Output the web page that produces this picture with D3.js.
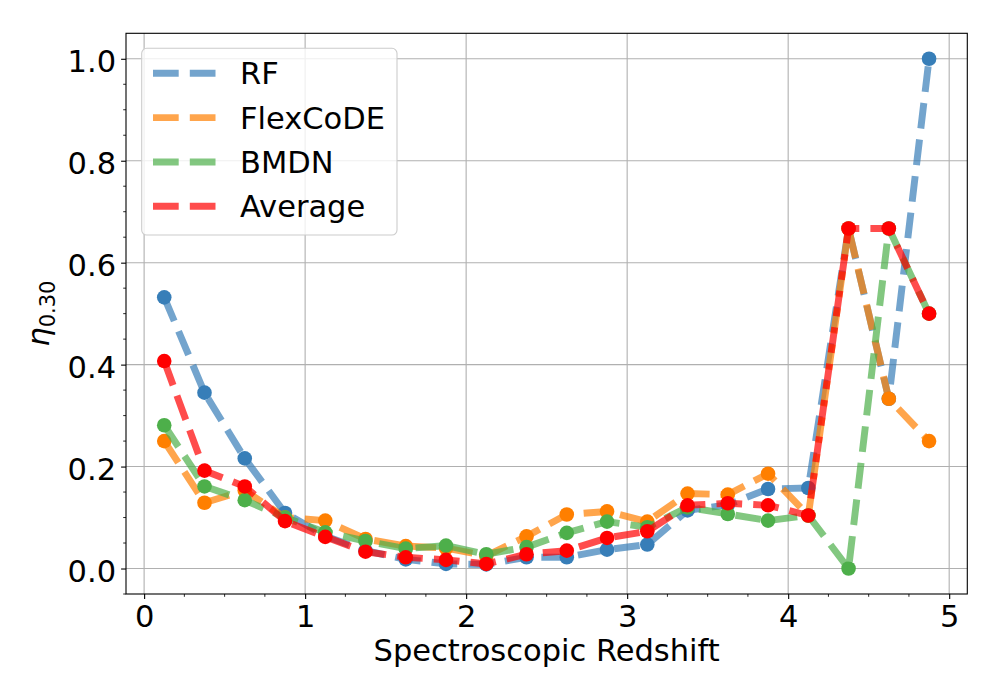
<!DOCTYPE html>
<html>
<head>
<meta charset="utf-8">
<script src="https://cdn.jsdelivr.net/npm/d3@7"></script>
<style>
  body { margin: 0; background: #fff; }
  text { font-family: "DejaVu Sans", sans-serif; fill: #000; }
</style>
</head>
<body>
<svg id="chart" width="1000" height="700"></svg>
<script>
// ---- data ----
const redshiftBins = [0.125, 0.375, 0.625, 0.875, 1.125, 1.375, 1.625, 1.875, 2.125, 2.375,
                      2.625, 2.875, 3.125, 3.375, 3.625, 3.875, 4.125, 4.375, 4.625, 4.875];
const rfValues = [0.532, 0.345, 0.216, 0.109, 0.064, 0.035, 0.018, 0.009, 0.008, 0.022,
                  0.022, 0.037, 0.047, 0.114, 0.125, 0.156, 0.158, 0.667, 0.333, 1.0];
const flexcodeValues = [0.250, 0.129, 0.153, 0.100, 0.094, 0.058, 0.044, 0.040, 0.025, 0.063,
                        0.106, 0.112, 0.092, 0.147, 0.145, 0.186, 0.104, 0.667, 0.333, 0.250];
const bmdnValues = [0.281, 0.161, 0.134, 0.100, 0.071, 0.054, 0.039, 0.045, 0.028, 0.042,
                    0.070, 0.092, 0.081, 0.120, 0.107, 0.094, 0.104, 0.000, 0.667, 0.500];
const averageValues = [0.407, 0.192, 0.161, 0.093, 0.062, 0.033, 0.022, 0.017, 0.009, 0.028,
                       0.035, 0.060, 0.073, 0.124, 0.128, 0.124, 0.104, 0.667, 0.667, 0.500];
const seriesNames = ["RF", "FlexCoDE", "BMDN", "Average"];
const seriesColors = ["#377eb8", "#ff7f00", "#4daf4a", "#ff0000"];
const xTicks = [0, 1, 2, 3, 4, 5];
const yTicks = [0.0, 0.2, 0.4, 0.6, 0.8, 1.0];
const xLabel = "Spectroscopic Redshift";

const seriesValues = [rfValues, flexcodeValues, bmdnValues, averageValues];

// ---- layout ----
const svg = d3.select("#chart");
const L = 126, R = 967.3, T = 33.3, B = 594;
const x = d3.scaleLinear().domain([-0.1125, 5.1125]).range([L, R]);
const y = d3.scaleLinear().domain([-0.05, 1.05]).range([B, T]);
const fs = 30.5;

// grid
const grid = svg.append("g");
grid.selectAll("line.gx").data(xTicks).enter().append("line")
  .attr("x1", d => x(d)).attr("x2", d => x(d)).attr("y1", T).attr("y2", B)
  .attr("stroke", "#b0b0b0").attr("stroke-width", 1.1);
grid.selectAll("line.gy").data(yTicks).enter().append("line")
  .attr("y1", d => y(d)).attr("y2", d => y(d)).attr("x1", L).attr("x2", R)
  .attr("stroke", "#b0b0b0").attr("stroke-width", 1.1);

// axes
const xAxis = d3.axisBottom(x).tickValues(xTicks).tickFormat(d3.format("d"))
  .tickSize(4.9).tickPadding(6);
const gx = svg.append("g").attr("transform", `translate(0,${B})`).call(xAxis);
gx.select(".domain").remove();
gx.selectAll("text").style("font-size", fs + "px").style("font-family", "DejaVu Sans");
gx.selectAll("line").attr("stroke-width", 1.1);

const xMinor = d3.range(0, 21).map(i => i * 0.25).filter(v => v % 1 !== 0);
svg.append("g").selectAll("line").data(xMinor).enter().append("line")
  .attr("x1", d => x(d)).attr("x2", d => x(d)).attr("y1", B).attr("y2", B + 2.8)
  .attr("stroke", "#000").attr("stroke-width", 0.85);

const yAxis = d3.axisLeft(y).tickValues(yTicks).tickFormat(d3.format(".1f"))
  .tickSize(4.9).tickPadding(5);
const gy = svg.append("g").attr("transform", `translate(${L},0)`).call(yAxis);
gy.select(".domain").remove();
gy.selectAll("text").style("font-size", fs + "px").style("font-family", "DejaVu Sans").attr("dy", "0.41em");
gy.selectAll("line").attr("stroke-width", 1.1);

const yMinor = d3.range(-1, 21).map(i => i * 0.05).filter(v => Math.abs(v * 5 - Math.round(v * 5)) > 1e-6);
svg.append("g").selectAll("line").data(yMinor).enter().append("line")
  .attr("y1", d => y(d)).attr("y2", d => y(d)).attr("x1", L).attr("x2", L - 2.8)
  .attr("stroke", "#000").attr("stroke-width", 0.85);

// series
const line = d3.line().x(d => x(d[0])).y(d => y(d[1]));
const plot = svg.append("g");
seriesValues.forEach((vals, i) => {
  const pts = redshiftBins.map((b, j) => [b, vals[j]]);
  plot.append("path").datum(pts)
    .attr("d", line)
    .attr("fill", "none")
    .attr("stroke", seriesColors[i])
    .attr("stroke-opacity", 0.7)
    .attr("stroke-width", 6.94)
    .attr("stroke-dasharray", "25.7,11.1")
    .attr("stroke-linejoin", "round");
  plot.selectAll(null).data(pts).enter().append("circle")
    .attr("cx", d => x(d[0])).attr("cy", d => y(d[1])).attr("r", 7.3)
    .attr("fill", seriesColors[i]);
});

// frame
svg.append("rect").attr("x", L).attr("y", T).attr("width", R - L).attr("height", B - T)
  .attr("fill", "none").attr("stroke", "#000").attr("stroke-width", 1.1);

// labels
svg.append("text").attr("x", (L + R) / 2).attr("y", 660.7).attr("text-anchor", "middle")
  .style("font-size", fs + "px").text(xLabel);

const yl = svg.append("text")
  .attr("transform", `translate(49,${(T + B) / 2}) rotate(-90)`)
  .attr("text-anchor", "middle")
  .style("font-size", fs + "px");
yl.append("tspan").style("font-style", "italic").text("η");
yl.append("tspan").attr("dy", 6).style("font-size", "21px").text("0.30");

// legend
const lg = svg.append("g");
lg.append("rect").attr("x", 141.7).attr("y", 48.3).attr("width", 255.3).attr("height", 186.7)
  .attr("rx", 5).attr("fill", "#fff").attr("fill-opacity", 0.8)
  .attr("stroke", "#cccccc").attr("stroke-width", 1.1);
const rowY = [73.3, 117.6, 162, 206.3];
seriesNames.forEach((n, i) => {
  lg.append("line").attr("x1", 153).attr("x2", 216).attr("y1", rowY[i]).attr("y2", rowY[i])
    .attr("stroke", seriesColors[i]).attr("stroke-opacity", 0.7).attr("stroke-width", 6.94)
    .attr("stroke-dasharray", "25.7,11.1");
  lg.append("text").attr("x", 240).attr("y", rowY[i]).attr("dy", "0.36em")
    .style("font-size", fs + "px").text(n);
});
</script>
</body>
</html>
